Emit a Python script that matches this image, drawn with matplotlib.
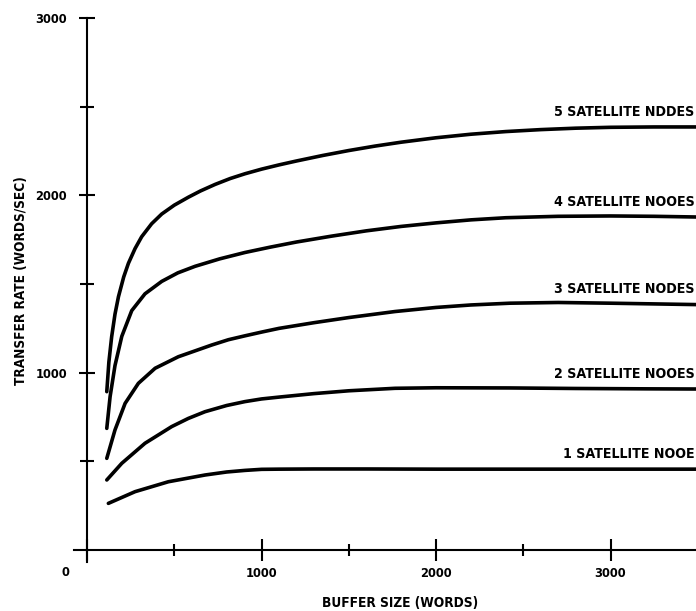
import matplotlib
matplotlib.use("Agg")
import matplotlib.pyplot as plt
from matplotlib import font_manager as fm
from matplotlib.textpath import TextPath

# Transfer rate vs buffer size
buf_1 = [122, 275, 466, 676, 800, 905, 1000, 1100, 1300, 1600, 2000, 2500, 3000, 3500]
rate_1 = [263, 329, 385, 423, 440, 449, 455, 456, 457, 457, 456, 456, 456, 456]

buf_2 = [113, 199, 332, 485, 580, 676, 800, 905, 1000, 1106, 1300, 1500, 1765, 2000, 2424,
         2800, 3200, 3500]
rate_2 = [395, 489, 602, 696, 742, 780, 815, 837, 852, 863, 882, 898, 912, 915, 914,
          911, 909, 908]

buf_3 = [113, 160, 218, 294, 390, 523, 714, 810, 905, 1000, 1100, 1300, 1500, 1765, 2000,
         2200, 2424, 2700, 3000, 3250, 3500]
rate_3 = [517, 677, 827, 940, 1025, 1090, 1156, 1186, 1208, 1229, 1250, 1282, 1311, 1345,
          1368, 1382, 1392, 1396, 1392, 1388, 1384]

buf_4 = [113, 132, 160, 199, 256, 332, 428, 520, 619, 760, 905, 1049, 1200, 1400, 1600,
         1800, 2000, 2200, 2400, 2700, 3000, 3250, 3500]
rate_4 = [686, 865, 1040, 1205, 1350, 1445, 1515, 1563, 1600, 1642, 1678, 1708, 1737, 1770,
          1800, 1825, 1845, 1862, 1874, 1882, 1884, 1882, 1878]

buf_5 = [113, 125, 141, 160, 180, 210, 237, 275, 313, 370, 428, 500, 581, 650, 734, 820,
         905, 1000, 1100, 1200, 1350, 1500, 1650, 1800, 2000, 2200, 2400, 2600, 2800, 3000,
         3250, 3500]
rate_5 = [893, 1060, 1203, 1330, 1429, 1540, 1617, 1700, 1767, 1840, 1895, 1945, 1990, 2025,
          2062, 2095, 2122, 2148, 2172, 2194, 2225, 2253, 2278, 2300, 2325, 2345, 2360, 2371,
          2379, 2384, 2386, 2386]

series = [
    (buf_1, rate_1, "1 SATELLITE NOOE"),
    (buf_2, rate_2, "2 SATELLITE NOOES"),
    (buf_3, rate_3, "3 SATELLITE NODES"),
    (buf_4, rate_4, "4 SATELLITE NOOES"),
    (buf_5, rate_5, "5 SATELLITE NDDES"),
]

x_ticks = [0, 1000, 2000, 3000]
x_tick_labels = ["", "1000", "2000", "3000"]
y_ticks = [1000, 2000, 3000]
y_tick_labels = ["1000", "2000", "3000"]
minor_x = [500, 1500, 2500]
minor_y = [500, 1500, 2500]

DPI = 100

# the original lettering is a condensed bold sans; use the narrowest one available
names = {f.name for f in fm.fontManager.ttflist}
condensed_dejavu = any(f.name == "DejaVu Sans" and f.stretch == "condensed"
                       for f in fm.fontManager.ttflist)
if "Liberation Sans Narrow" in names:
    prop = fm.FontProperties(family="Liberation Sans Narrow", weight="bold")
    grow = 1.0
elif condensed_dejavu:
    prop = fm.FontProperties(family="DejaVu Sans", weight="bold", stretch="condensed")
    grow = 1.05
else:
    prop = fm.FontProperties(family="Liberation Sans", weight="bold")
    grow = 1.12  # a bit wider than the scan, but closer in height


def fit_size(text, width_px):
    """font size (pt) that gives the text the width it has in the scan"""
    w = TextPath((0, 0), text, size=10, prop=prop).get_extents().width
    return grow * 10 * (width_px * 72 / DPI) / w


series_size = fit_size("5 SATELLITE NDDES", 132)
tick_size = fit_size("1000", 29)
xlabel_size = fit_size("BUFFER SIZE (WORDS)", 147)
ylabel_size = fit_size("TRANSFER RATE (WORDS/SEC)", 198)

fig = plt.figure(figsize=(6.96, 6.11), dpi=DPI)
ax = fig.add_axes([0, 0, 1, 1])
ax.set_xlim(-499, 3490)
ax.set_ylim(-344, 3102)

for xs, ys, name in series:
    ax.plot(xs, ys, color="black", linewidth=2.6, solid_capstyle="round",
            solid_joinstyle="round")
    ax.annotate(name, xy=(3480, ys[-1]), xytext=(0, 11), textcoords="offset points",
                ha="right", va="center", fontproperties=prop, fontsize=series_size,
                annotation_clip=False)

# axes drawn as crossing lines through the origin
for side in ["top", "right"]:
    ax.spines[side].set_visible(False)
ax.spines["left"].set_position(("data", 0))
ax.spines["bottom"].set_position(("data", 0))
ax.spines["left"].set_bounds(-68, 3000)
ax.spines["bottom"].set_bounds(-75, 3490)
ax.spines["left"].set_linewidth(1.5)
ax.spines["bottom"].set_linewidth(1.5)

ax.set_xticks(x_ticks)
ax.set_xticklabels(x_tick_labels, fontproperties=prop, fontsize=tick_size)
ax.set_xticks(minor_x, minor=True)
ax.set_yticks(y_ticks)
ax.set_yticklabels(y_tick_labels, fontproperties=prop, fontsize=tick_size)
ax.set_yticks(minor_y, minor=True)

ax.tick_params(axis="x", which="major", direction="inout", length=16, width=1.5, pad=4.5)
ax.tick_params(axis="x", which="minor", direction="inout", length=8, width=1.5)
ax.tick_params(axis="y", which="major", direction="inout", length=12, width=1.5, pad=8.5)
ax.tick_params(axis="y", which="minor", direction="inout", length=10, width=1.5)

# the origin label sits left of the axis in the original
ax.text(-125, -90, "0", ha="center", va="top", fontproperties=prop, fontsize=tick_size)

ax.set_xlabel("BUFFER SIZE (WORDS)", fontproperties=prop, fontsize=xlabel_size)
ax.xaxis.set_label_coords(0.575, 0.025)
ax.set_ylabel("TRANSFER RATE (WORDS/SEC)", fontproperties=prop, fontsize=ylabel_size)
ax.yaxis.set_label_coords(0.04, 0.54)

fig.savefig("out.png", dpi=DPI)
